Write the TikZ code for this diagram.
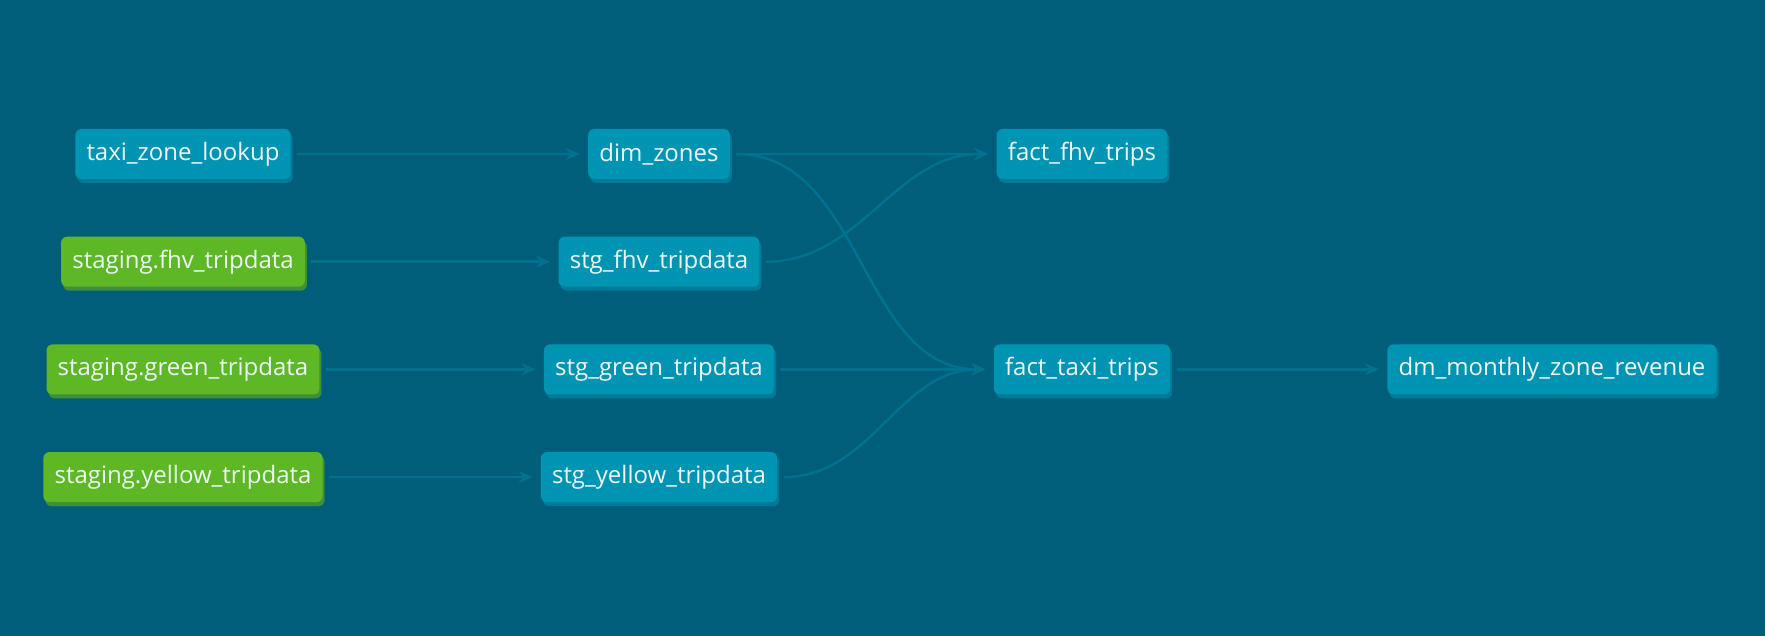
\documentclass[tikz,border=0pt]{standalone}
\usepackage{fontspec}
\setmainfont{Open Sans}
\usetikzlibrary{arrows.meta,shadows}
\definecolor{bg}{HTML}{005E7A}
\definecolor{modelblue}{HTML}{0094B3}
\definecolor{modelshade}{HTML}{007A99}
\definecolor{sourcegreen}{HTML}{5EB826}
\definecolor{sourceshade}{HTML}{3E8F38}
\definecolor{edgecol}{HTML}{00718F}
\definecolor{nodetext}{HTML}{EEF5F6}
\tikzstyle{box}=[rounded corners=3pt,text=nodetext,minimum height=25pt,inner xsep=5.6pt,font=\fontsize{12}{14}\selectfont]
\tikzstyle{model}=[box,fill=modelblue,general shadow={fill=modelshade,shadow xshift=1pt,shadow yshift=-2pt}]
\tikzstyle{source}=[box,fill=sourcegreen,general shadow={fill=sourceshade,shadow xshift=1pt,shadow yshift=-2pt}]
\tikzstyle{edge}=[draw=edgecol,line width=1.25pt,-{Stealth[length=7pt,width=6pt]},shorten <=3pt,shorten >=4pt]

\begin{document}
\begin{tikzpicture}[x=.5pt,y=-.5pt]
      \fill[bg] (0,0) rectangle (1765,636);
      \useasboundingbox (0,0) rectangle (1765,636);

      % first column: seed and sources
      \node[model] (l0) at (183,154) {taxi\_zone\_lookup};
      \foreach \i/\t in {1/fhv,2/green,3/yellow}{
        \node[source] (l\i) at (183,154+107.7*\i) {staging.\t\_tripdata};
      }

      % second column
      \node[model] (m0) at (659,154) {dim\_zones};
      \foreach \i/\t in {1/fhv,2/green,3/yellow}{
        \node[model] (m\i) at (659,154+107.7*\i) {stg\_\t\_tripdata};
      }

      \node[model] (ff) at (1082,154) {fact\_fhv\_trips};
      \node[model] (ft) at (1082,369.4) {fact\_taxi\_trips};
      \node[model] (dm) at (1552,369.4) {dm\_monthly\_zone\_revenue};

      \foreach \i in {0,...,3}{
        \draw[edge] (l\i) -- (m\i);
      }
      \draw[edge] (m0) to[out=0,in=180] (ff);
      \draw[edge] (m1) to[out=0,in=180] (ff);
      \foreach \j in {0,2,3}{
        \draw[edge] (m\j) to[out=0,in=180] (ft);
      }
      \draw[edge] (ft) -- (dm);
    \end{tikzpicture}
\end{document}
